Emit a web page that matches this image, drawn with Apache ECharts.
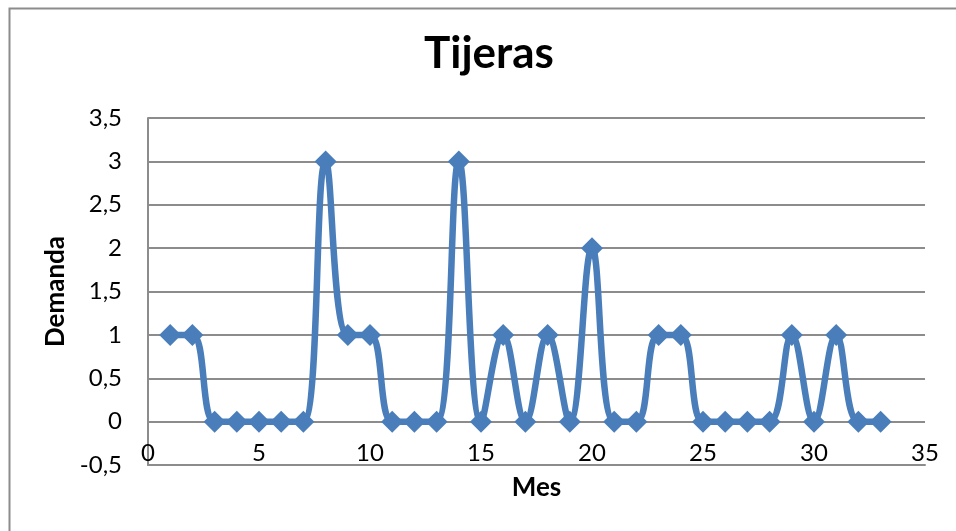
<!DOCTYPE html>
<html>
<head>
<meta charset="utf-8">
<script src="https://cdn.jsdelivr.net/npm/echarts@6/dist/echarts.min.js"></script>
<style>
html,body{margin:0;padding:0;background:#fff;}
#c{width:956px;height:531px;}
</style>
</head>
<body>
<div id="c"></div>
<script>
var title = "Tijeras";
var xName = "Mes";
var yName = "Demanda";
var months = [1,2,3,4,5,6,7,8,9,10,11,12,13,14,15,16,17,18,19,20,21,22,23,24,25,26,27,28,29,30,31,32,33];
var demanda = [1,1,0,0,0,0,0,3,1,1,0,0,0,3,0,1,0,1,0,2,0,0,1,1,0,0,0,0,1,0,1,0,0];

var pts = months.map(function(m, i){ return [m, demanda[i]]; });
var font = "Lato, 'Open Sans', sans-serif";
var chart = echarts.init(document.getElementById('c'));
chart.setOption({
  animation: false,
  backgroundColor: '#fff',
  graphic: [{
    type: 'rect', left: 7, top: 6,
    shape: {x: 0, y: 0, width: 1000, height: 600},
    style: {fill: 'none', stroke: '#8c8c8c', lineWidth: 2},
    silent: true, z: -1
  }, {
    type: 'text', left: 424, top: 32,
    style: {text: title, x: 0, y: 0, fill: '#000',
      font: "bold 44px Lato, 'Open Sans', sans-serif"},
    silent: true
  }],
  grid: {left: 148, right: 31, top: 118, bottom: 66, containLabel: false},
  xAxis: {
    type: 'value', min: 0, max: 35, interval: 5,
    name: xName, nameLocation: 'middle', nameGap: 10,
    nameTextStyle: {fontFamily: font, fontWeight: 'bold', fontSize: 26, color: '#000'},
    axisLine: {show: true, onZero: false, lineStyle: {color: '#8c8c8c', width: 2}},
    axisTick: {show: false},
    splitLine: {show: false},
    axisLabel: {inside: true, margin: 0, fontFamily: font, fontSize: 24, color: '#000'}
  },
  yAxis: {
    type: 'value', min: -0.5, max: 3.5, interval: 0.5,
    name: yName, nameLocation: 'middle', nameGap: 76, nameRotate: 90,
    nameTextStyle: {fontFamily: font, fontWeight: 'bold', fontSize: 26, color: '#000'},
    axisLine: {show: true, lineStyle: {color: '#8c8c8c', width: 2}},
    axisTick: {show: false},
    splitLine: {show: true, lineStyle: {color: '#8c8c8c', width: 2}},
    axisLabel: {margin: 26, fontFamily: font, fontSize: 24, color: '#000',
      formatter: function(v){ return String(v).replace('.', ','); }}
  },
  series: [{
    type: 'line', data: pts, smooth: 0.4,
    symbol: 'diamond', symbolSize: 22,
    lineStyle: {color: '#4a7ebb', width: 6.5},
    itemStyle: {color: '#4a7ebb'}
  }]
});
</script>
</body>
</html>
